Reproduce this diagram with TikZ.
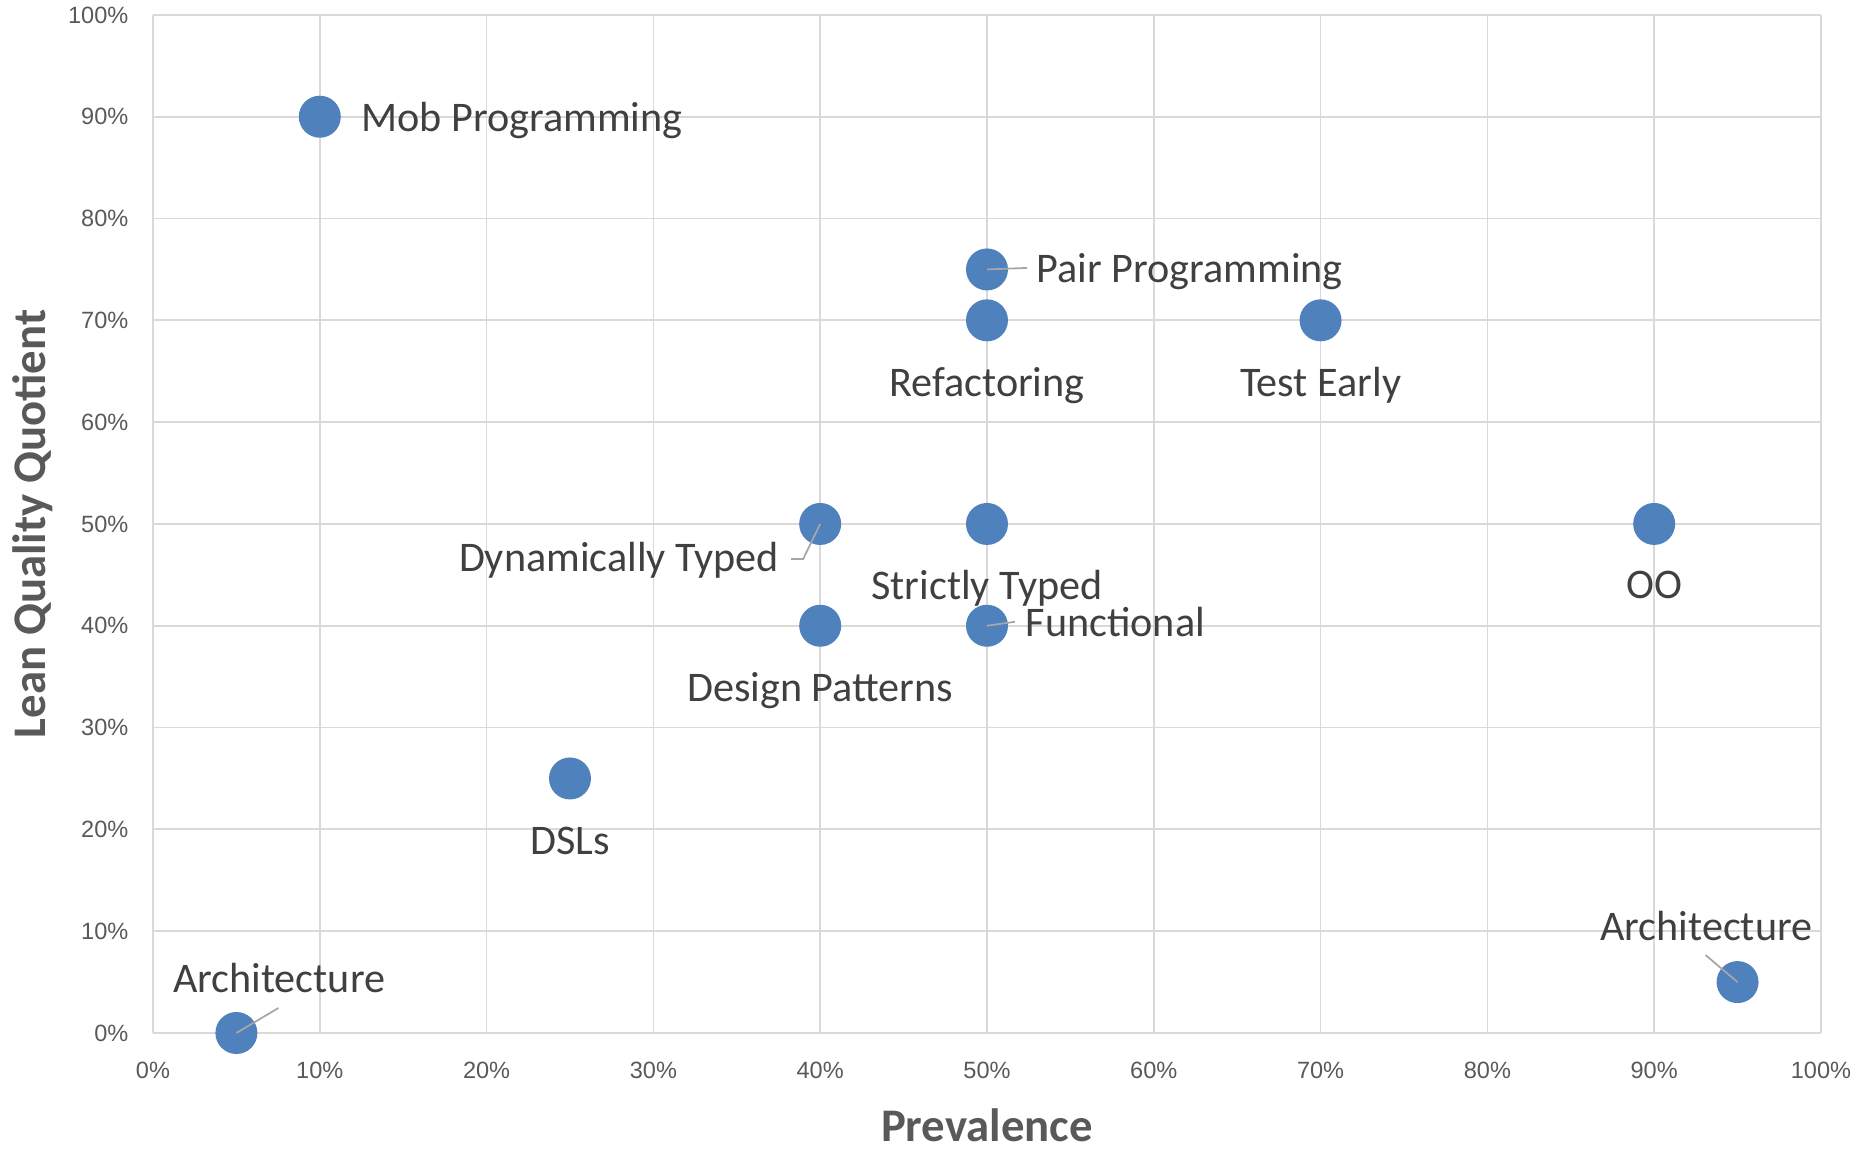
\documentclass[tikz,border=0pt]{standalone}
\usepackage{fontspec}
\setmainfont{Carlito}
\newfontfamily\tickfont{Liberation Sans}
\definecolor{dotblue}{HTML}{4F81BD}
\definecolor{gridgray}{HTML}{D9D9D9}
\definecolor{tickgray}{HTML}{595959}
\definecolor{labelgray}{HTML}{404040}
\definecolor{leadergray}{HTML}{A6A6A6}
\tikzset{
  gridline/.style={draw=gridgray, line width=0.5pt},
  ticklabel/.style={text=tickgray, font=\tickfont\fontsize{6.7}{8}\selectfont, inner sep=0pt},
  axistitle/.style={text=tickgray, font=\fontsize{13.3}{16}\selectfont\bfseries, inner sep=0pt},
  dot/.style={circle, fill=dotblue, minimum size=0.42cm, inner sep=0pt},
  lbl/.style={text=labelgray, font=\fontsize{12}{14}\selectfont, inner sep=0pt},
  leader/.style={draw=leadergray, line width=0.5pt}
}
\begin{document}
\begin{tikzpicture}
    \useasboundingbox (0,0) rectangle (18.6,11.5);
    \begin{scope}[shift={(1.53,1.17)}, x=0.1668cm, y=0.1018cm]
        % grid and ticks
        \foreach \v in {0,10,...,100} {
            \draw [gridline] (\v,0) -- (\v,100);
            \draw [gridline] (0,\v) -- (100,\v);
            \node [ticklabel, anchor=east, xshift=-0.24cm] (ytick\v) at (0,\v) {\v\%};
            \node [ticklabel, yshift=-0.37cm] (xtick\v) at (\v,0) {\v\%};
        }
        \node [axistitle, anchor=base, yshift=-1.09cm] (xtitle) at (50,0) {Prevalence};
        \node [axistitle, anchor=base, xshift=-1.08cm, rotate=90] (ytitle) at (0,50) {Lean Quality Quotient};
        % points
        \node [dot] (mob) at (10,90) {};
        \node [dot] (pair) at (50,75) {};
        \node [dot] (refac) at (50,70) {};
        \node [dot] (test) at (70,70) {};
        \node [dot] (dyn) at (40,50) {};
        \node [dot] (strict) at (50,50) {};
        \node [dot] (oo) at (90,50) {};
        \node [dot] (design) at (40,40) {};
        \node [dot] (func) at (50,40) {};
        \node [dot] (dsl) at (25,25) {};
        \node [dot] (archA) at (5,0) {};
        \node [dot] (archB) at (95,5) {};
        % labels
        \node [lbl, anchor=base west] (mobL) at ([xshift=0.41cm, yshift=-0.15cm]mob.center) {Mob Programming};
        \node [lbl, anchor=base west] (pairL) at ([xshift=0.49cm, yshift=-0.135cm]pair.center) {Pair Programming};
        \node [lbl, anchor=base] (refacL) at ([yshift=-0.76cm]refac.center) {Refactoring};
        \node [lbl, anchor=base] (testL) at ([yshift=-0.76cm]test.center) {Test Early};
        \node [lbl, anchor=base east] (dynL) at ([xshift=-0.41cm, yshift=-0.48cm]dyn.center) {Dynamically Typed};
        \node [lbl, anchor=base] (strictL) at ([yshift=-0.76cm]strict.center) {Strictly Typed};
        \node [lbl, anchor=base] (ooL) at ([yshift=-0.75cm]oo.center) {OO};
        \node [lbl, anchor=base west] (funcL) at ([xshift=0.38cm, yshift=-0.11cm]func.center) {Functional};
        \node [lbl, anchor=base] (designL) at ([yshift=-0.76cm]design.center) {Design Patterns};
        \node [lbl, anchor=base] (dslL) at ([yshift=-0.76cm]dsl.center) {DSLs};
        \node [lbl, anchor=base west] (archAL) at ([xshift=-0.64cm, yshift=0.40cm]archA.center) {Architecture};
        \node [lbl, anchor=base west] (archBL) at ([xshift=-1.38cm, yshift=0.42cm]archB.center) {Architecture};
        % leader lines
        \coordinate (pairT) at ([xshift=0.40cm, yshift=0.015cm]pair.center);
        \coordinate (dynK) at ([xshift=-0.17cm, yshift=-0.35cm]dyn.center);
        \coordinate (dynT) at ([xshift=-0.29cm, yshift=-0.35cm]dyn.center);
        \coordinate (funcT) at ([xshift=0.28cm, yshift=0.04cm]func.center);
        \coordinate (archAT) at ([xshift=0.42cm, yshift=0.25cm]archA.center);
        \coordinate (archBT) at ([xshift=-0.32cm, yshift=0.27cm]archB.center);
        \draw [leader] (pair.center) -- (pairT);
        \draw [leader] (dyn.center) -- (dynK) -- (dynT);
        \draw [leader] (func.center) -- (funcT);
        \draw [leader] (archA.center) -- (archAT);
        \draw [leader] (archB.center) -- (archBT);
    \end{scope}
\end{tikzpicture}
\end{document}
